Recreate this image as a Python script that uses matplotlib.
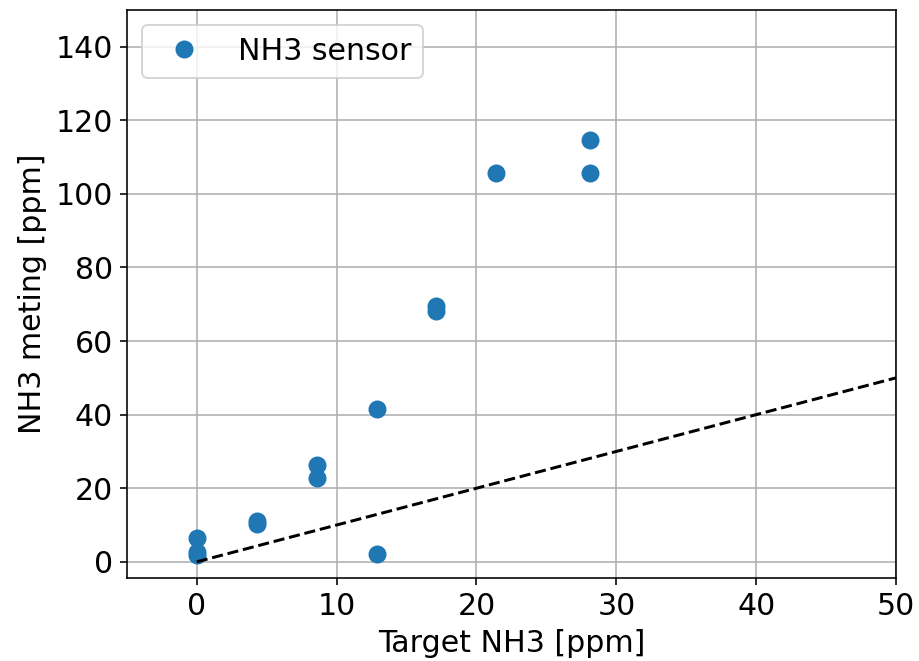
import matplotlib
matplotlib.use("Agg")
import matplotlib.pyplot as plt
import numpy as np

target = [0, 0, 0, 4.29, 4.29, 8.57, 8.57, 12.86, 12.86, 17.14, 17.14, 21.43, 28.1, 28.1]
meting = [6.6, 2.6, 1.8, 11.0, 10.2, 26.2, 22.9, 41.4, 2.1, 69.5, 68.3, 105.7, 114.7, 105.7]
ref_x = [0, 50]
ref_y = [0, 50]

plt.rcParams['font.size'] = 15
fig = plt.figure(figsize=(919/144, 661/144), dpi=144)
ax = fig.add_axes([0.138, 0.125, 0.837, 0.86])
ax.plot(target, meting, 'o', color='#1f77b4', markersize=8, label='NH3 sensor')
ax.plot(ref_x, ref_y, 'k--', linewidth=1.5)
ax.set_xlim(-5, 50)
ax.set_ylim(-4.5, 150)
ax.set_xticks([0, 10, 20, 30, 40, 50])
ax.set_yticks([0, 20, 40, 60, 80, 100, 120, 140])
ax.grid(True)
ax.set_xlabel('Target NH3 [ppm]')
ax.set_ylabel('NH3 meting [ppm]')
ax.legend(loc='upper left')
fig.savefig('out.png', dpi=144)
